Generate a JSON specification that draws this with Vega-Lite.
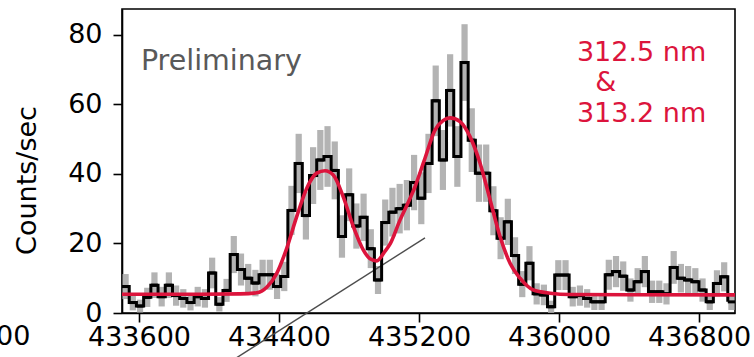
{
  "$schema": "https://vega.github.io/schema/vega-lite/v6.json",
  "width": 613,
  "height": 304,
  "autosize": {"type": "none"},
  "padding": {"left": 122, "top": 9, "right": 19, "bottom": 44},
  "config": {
    "font": "DejaVu Sans",
    "view": {"stroke": "black", "strokeWidth": 1.6},
    "axis": {
      "grid": false,
      "domainColor": "black",
      "domainWidth": 1.6,
      "tickColor": "black",
      "tickWidth": 1.6,
      "tickSize": 9,
      "labelFont": "DejaVu Sans",
      "labelFontSize": 27,
      "labelColor": "black",
      "titleFont": "DejaVu Sans",
      "titleFontSize": 27,
      "titleFontWeight": "normal",
      "titleColor": "black"
    },
    "axisX": {"labelPadding": 2},
    "axisY": {"labelPadding": 11, "titleX": -87, "titleY": 171, "titleAlign": "center", "titleBaseline": "alphabetic", "titleAngle": -90}
  },
  "datasets": {
    "bins": [
      {"x0":433503.0,"x1":433544.2,"v":7.6,"lo":4.0,"hi":11.2},
      {"x0":433544.2,"x1":433585.4,"v":3.0,"lo":0.75,"hi":5.25},
      {"x0":433585.4,"x1":433626.6,"v":2.0,"lo":0.16,"hi":3.84},
      {"x0":433626.6,"x1":433667.8,"v":4.5,"lo":1.74,"hi":7.26},
      {"x0":433667.8,"x1":433709.0,"v":8.0,"lo":4.32,"hi":11.68},
      {"x0":433709.0,"x1":433750.2,"v":4.7,"lo":1.88,"hi":7.52},
      {"x0":433750.2,"x1":433791.4,"v":8.0,"lo":4.32,"hi":11.68},
      {"x0":433791.4,"x1":433832.6,"v":5.0,"lo":2.09,"hi":7.91},
      {"x0":433832.6,"x1":433873.8,"v":4.2,"lo":1.54,"hi":6.86},
      {"x0":433873.8,"x1":433915.0,"v":3.0,"lo":0.75,"hi":5.25},
      {"x0":433915.0,"x1":433956.2,"v":4.7,"lo":1.88,"hi":7.52},
      {"x0":433956.2,"x1":433997.4,"v":4.2,"lo":1.54,"hi":6.86},
      {"x0":433997.4,"x1":434038.6,"v":11.5,"lo":7.09,"hi":15.91},
      {"x0":434038.6,"x1":434079.8,"v":2.5,"lo":0.44,"hi":4.56},
      {"x0":434079.8,"x1":434121.0,"v":6.5,"lo":3.19,"hi":9.81},
      {"x0":434121.0,"x1":434162.2,"v":16.8,"lo":11.47,"hi":22.13},
      {"x0":434162.2,"x1":434203.4,"v":12.5,"lo":7.9,"hi":17.1},
      {"x0":434203.4,"x1":434244.6,"v":10.0,"lo":5.89,"hi":14.11},
      {"x0":434244.6,"x1":434285.8,"v":8.6,"lo":4.79,"hi":12.41},
      {"x0":434285.8,"x1":434327.0,"v":11.0,"lo":6.69,"hi":15.31},
      {"x0":434327.0,"x1":434368.2,"v":11.0,"lo":6.69,"hi":15.31},
      {"x0":434368.2,"x1":434409.4,"v":7.6,"lo":4.02,"hi":11.18},
      {"x0":434409.4,"x1":434450.6,"v":10.5,"lo":6.29,"hi":14.71},
      {"x0":434450.6,"x1":434491.8,"v":29.5,"lo":22.44,"hi":36.56},
      {"x0":434491.8,"x1":434533.0,"v":43.0,"lo":34.48,"hi":51.52},
      {"x0":434533.0,"x1":434574.2,"v":28.0,"lo":21.12,"hi":34.88},
      {"x0":434574.2,"x1":434615.4,"v":39.5,"lo":31.33,"hi":47.67},
      {"x0":434615.4,"x1":434656.6,"v":44.0,"lo":35.38,"hi":52.62},
      {"x0":434656.6,"x1":434697.8,"v":45.0,"lo":36.28,"hi":53.72},
      {"x0":434697.8,"x1":434739.0,"v":41.0,"lo":32.68,"hi":49.32},
      {"x0":434739.0,"x1":434780.2,"v":22.0,"lo":15.9,"hi":28.1},
      {"x0":434780.2,"x1":434821.4,"v":34.0,"lo":26.42,"hi":41.58},
      {"x0":434821.4,"x1":434862.6,"v":25.0,"lo":18.5,"hi":31.5},
      {"x0":434862.6,"x1":434903.8,"v":27.5,"lo":20.68,"hi":34.32},
      {"x0":434903.8,"x1":434945.0,"v":18.5,"lo":12.91,"hi":24.09},
      {"x0":434945.0,"x1":434986.2,"v":9.5,"lo":5.49,"hi":13.51},
      {"x0":434986.2,"x1":435027.4,"v":26.0,"lo":19.37,"hi":32.63},
      {"x0":435027.4,"x1":435068.6,"v":29.0,"lo":22.0,"hi":36.0},
      {"x0":435068.6,"x1":435109.8,"v":30.0,"lo":22.88,"hi":37.12},
      {"x0":435109.8,"x1":435151.0,"v":31.0,"lo":23.76,"hi":38.24},
      {"x0":435151.0,"x1":435192.2,"v":37.5,"lo":29.54,"hi":45.46},
      {"x0":435192.2,"x1":435233.4,"v":33.0,"lo":25.53,"hi":40.47},
      {"x0":435233.4,"x1":435274.6,"v":43.0,"lo":34.48,"hi":51.52},
      {"x0":435274.6,"x1":435315.8,"v":61.0,"lo":50.85,"hi":71.15},
      {"x0":435315.8,"x1":435357.0,"v":44.0,"lo":35.38,"hi":52.62},
      {"x0":435357.0,"x1":435398.2,"v":64.0,"lo":53.6,"hi":74.4},
      {"x0":435398.2,"x1":435439.4,"v":45.0,"lo":36.28,"hi":53.72},
      {"x0":435439.4,"x1":435480.6,"v":72.0,"lo":60.97,"hi":83.03},
      {"x0":435480.6,"x1":435521.8,"v":49.7,"lo":40.54,"hi":58.86},
      {"x0":435521.8,"x1":435563.0,"v":40.2,"lo":31.96,"hi":48.44},
      {"x0":435563.0,"x1":435604.2,"v":40.2,"lo":31.96,"hi":48.44},
      {"x0":435604.2,"x1":435645.4,"v":29.4,"lo":22.35,"hi":36.45},
      {"x0":435645.4,"x1":435686.6,"v":21.5,"lo":15.47,"hi":27.53},
      {"x0":435686.6,"x1":435727.8,"v":26.2,"lo":19.55,"hi":32.85},
      {"x0":435727.8,"x1":435769.0,"v":16.5,"lo":11.22,"hi":21.78},
      {"x0":435769.0,"x1":435810.2,"v":8.3,"lo":4.55,"hi":12.05},
      {"x0":435810.2,"x1":435851.4,"v":14.3,"lo":9.38,"hi":19.22},
      {"x0":435851.4,"x1":435892.6,"v":5.5,"lo":2.45,"hi":8.55},
      {"x0":435892.6,"x1":435933.8,"v":5.2,"lo":2.24,"hi":8.16},
      {"x0":435933.8,"x1":435975.0,"v":1.8,"lo":0.06,"hi":3.54},
      {"x0":435975.0,"x1":436016.2,"v":10.9,"lo":6.61,"hi":15.19},
      {"x0":436016.2,"x1":436057.4,"v":10.9,"lo":6.61,"hi":15.19},
      {"x0":436057.4,"x1":436098.6,"v":4.7,"lo":1.88,"hi":7.52},
      {"x0":436098.6,"x1":436139.8,"v":5.0,"lo":2.09,"hi":7.91},
      {"x0":436139.8,"x1":436181.0,"v":4.2,"lo":1.54,"hi":6.86},
      {"x0":436181.0,"x1":436222.2,"v":3.2,"lo":0.87,"hi":5.53},
      {"x0":436222.2,"x1":436263.4,"v":3.2,"lo":0.87,"hi":5.53},
      {"x0":436263.4,"x1":436304.6,"v":11.0,"lo":6.69,"hi":15.31},
      {"x0":436304.6,"x1":436345.8,"v":11.9,"lo":7.42,"hi":16.38},
      {"x0":436345.8,"x1":436387.0,"v":10.6,"lo":6.37,"hi":14.83},
      {"x0":436387.0,"x1":436428.2,"v":6.6,"lo":3.26,"hi":9.94},
      {"x0":436428.2,"x1":436469.4,"v":9.0,"lo":5.1,"hi":12.9},
      {"x0":436469.4,"x1":436510.6,"v":11.9,"lo":7.42,"hi":16.38},
      {"x0":436510.6,"x1":436551.8,"v":6.1,"lo":2.89,"hi":9.31},
      {"x0":436551.8,"x1":436593.0,"v":6.1,"lo":2.89,"hi":9.31},
      {"x0":436593.0,"x1":436634.2,"v":5.5,"lo":2.45,"hi":8.55},
      {"x0":436634.2,"x1":436675.4,"v":13.1,"lo":8.39,"hi":17.81},
      {"x0":436675.4,"x1":436716.6,"v":10.0,"lo":5.89,"hi":14.11},
      {"x0":436716.6,"x1":436757.8,"v":9.5,"lo":5.49,"hi":13.51},
      {"x0":436757.8,"x1":436799.0,"v":9.0,"lo":5.1,"hi":12.9},
      {"x0":436799.0,"x1":436840.2,"v":6.6,"lo":3.26,"hi":9.94},
      {"x0":436840.2,"x1":436881.4,"v":3.2,"lo":0.87,"hi":5.53},
      {"x0":436881.4,"x1":436922.6,"v":8.5,"lo":4.71,"hi":12.29},
      {"x0":436922.6,"x1":436963.8,"v":10.4,"lo":6.21,"hi":14.59},
      {"x0":436963.8,"x1":437005.0,"v":3.2,"lo":0.87,"hi":5.53}
    ],
    "fit": [
      {"x":433503,"y":5.4},{"x":433949,"y":5.4},{"x":434177,"y":5.5},{"x":434272,"y":5.8},
      {"x":434330,"y":7.4},{"x":434387,"y":11.4},{"x":434444,"y":18.6},{"x":434501,"y":27.7},
      {"x":434558,"y":35.8},{"x":434615,"y":40.2},{"x":434663,"y":40.9},{"x":434710,"y":39.7},
      {"x":434767,"y":33.4},{"x":434825,"y":24.8},{"x":434882,"y":18.1},{"x":434920,"y":15.6},
      {"x":434958,"y":15.0},{"x":435006,"y":17.8},{"x":435034,"y":19.8},{"x":435091,"y":26.7},
      {"x":435149,"y":33.0},{"x":435177,"y":36.3},{"x":435206,"y":40.4},{"x":435234,"y":44.5},
      {"x":435291,"y":52.6},{"x":435337,"y":55.3},{"x":435377,"y":56.1},{"x":435434,"y":55.0},
      {"x":435491,"y":50.7},{"x":435549,"y":43.0},{"x":435606,"y":32.5},{"x":435663,"y":21.9},
      {"x":435720,"y":14.3},{"x":435777,"y":10.0},{"x":435853,"y":6.6},{"x":435948,"y":5.7},
      {"x":436063,"y":5.3},{"x":437005,"y":5.2}
    ],
    "diag": [
      {"x":434091,"y":-15.0},
      {"x":435234,"y":21.6}
    ],
    "labels": [
      {"x":433611,"y":69.85,"text":"Preliminary"}
    ],
    "lines": [
      {"x":436102,"y":72.4,"text":"312.5 nm"},
      {"x":436207,"y":63.9,"text":"&"},
      {"x":436102,"y":55.0,"text":"313.2 nm"}
    ],
    "stray": [
      {"x":432980,"y":-9.2,"text":"432800"}
    ]
  },
  "layer": [
    {
      "data": {"name": "bins"},
      "mark": {"type": "rect", "color": "#b3b3b3", "xOffset": 0.5, "x2Offset": -0.5, "clip": true},
      "encoding": {
        "x": {"field": "x0", "type": "quantitative", "scale": {"domain": [433503, 437005], "nice": false, "zero": false},
              "axis": {"values": [433600, 434400, 435200, 436000, 436800], "format": "d", "title": null}},
        "x2": {"field": "x1"},
        "y": {"field": "lo", "type": "quantitative", "scale": {"domain": [0, 87.4], "nice": false, "zero": false},
              "axis": {"values": [0, 20, 40, 60, 80], "title": "Counts/sec"}},
        "y2": {"field": "hi"}
      }
    },
    {
      "data": {"name": "diag"},
      "mark": {"type": "line", "color": "#4d4d4d", "strokeWidth": 1.4, "clip": false},
      "encoding": {
        "x": {"field": "x", "type": "quantitative", "scale": {"domain": [433503, 437005], "nice": false, "zero": false}},
        "y": {"field": "y", "type": "quantitative", "scale": {"domain": [0, 87.4], "nice": false, "zero": false}}
      }
    },
    {
      "data": {"name": "bins"},
      "mark": {"type": "line", "interpolate": "step-after", "color": "black", "strokeWidth": 3, "strokeJoin": "miter", "clip": true},
      "encoding": {
        "x": {"field": "x0", "type": "quantitative", "scale": {"domain": [433503, 437005], "nice": false, "zero": false}},
        "y": {"field": "v", "type": "quantitative", "scale": {"domain": [0, 87.4], "nice": false, "zero": false}}
      }
    },
    {
      "data": {"name": "bins"},
      "mark": {"type": "rule", "color": "black", "strokeWidth": 3, "clip": true},
      "encoding": {
        "x": {"field": "x0", "type": "quantitative", "scale": {"domain": [433503, 437005], "nice": false, "zero": false}},
        "x2": {"field": "x1"},
        "y": {"field": "v", "type": "quantitative", "scale": {"domain": [0, 87.4], "nice": false, "zero": false}}
      }
    },
    {
      "data": {"name": "fit"},
      "mark": {"type": "line", "interpolate": "monotone", "color": "#DC143C", "strokeWidth": 3.6, "clip": true},
      "encoding": {
        "x": {"field": "x", "type": "quantitative", "scale": {"domain": [433503, 437005], "nice": false, "zero": false}},
        "y": {"field": "y", "type": "quantitative", "scale": {"domain": [0, 87.4], "nice": false, "zero": false}}
      }
    },
    {
      "data": {"name": "labels"},
      "mark": {"type": "text", "align": "left", "baseline": "alphabetic", "font": "DejaVu Sans", "fontSize": 28.5, "color": "#595959"},
      "encoding": {
        "x": {"field": "x", "type": "quantitative", "scale": {"domain": [433503, 437005], "nice": false, "zero": false}},
        "y": {"field": "y", "type": "quantitative", "scale": {"domain": [0, 87.4], "nice": false, "zero": false}},
        "text": {"field": "text"}
      }
    },
    {
      "data": {"name": "lines"},
      "mark": {"type": "text", "align": "left", "baseline": "alphabetic", "font": "DejaVu Sans", "fontSize": 27, "color": "#DC143C"},
      "encoding": {
        "x": {"field": "x", "type": "quantitative", "scale": {"domain": [433503, 437005], "nice": false, "zero": false}},
        "y": {"field": "y", "type": "quantitative", "scale": {"domain": [0, 87.4], "nice": false, "zero": false}},
        "text": {"field": "text"}
      }
    },
    {
      "data": {"name": "stray"},
      "mark": {"type": "text", "align": "right", "baseline": "alphabetic", "font": "DejaVu Sans", "fontSize": 27, "color": "black", "clip": false},
      "encoding": {
        "x": {"field": "x", "type": "quantitative", "scale": {"domain": [433503, 437005], "nice": false, "zero": false}},
        "y": {"field": "y", "type": "quantitative", "scale": {"domain": [0, 87.4], "nice": false, "zero": false}},
        "text": {"field": "text"}
      }
    }
  ]
}
